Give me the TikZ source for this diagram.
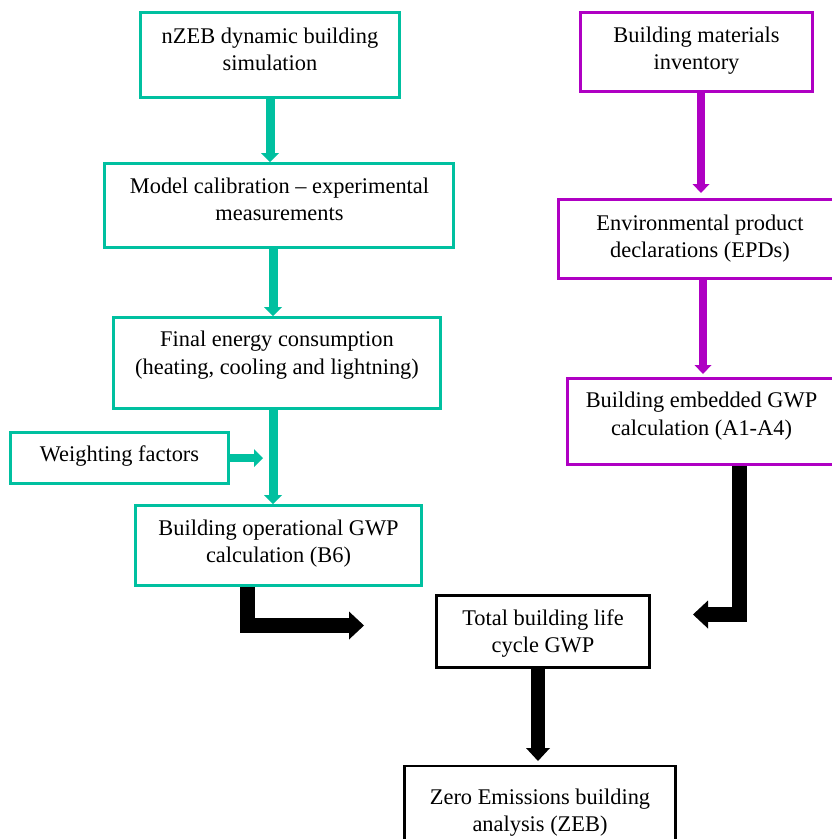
\documentclass[tikz,border=0pt]{standalone}
\usepackage{fontspec}
\setmainfont{Liberation Serif}
\usetikzlibrary{arrows.meta}
\definecolor{myteal}{RGB}{0,192,160}
\definecolor{mymag}{RGB}{175,0,195}
\newcommand{\sst}{\rule[-5.5pt]{0pt}{21.5pt}}
\begin{document}
\begin{tikzpicture}[x=1pt,y=-1pt,
  tbox/.style={draw=myteal, line width=2.8pt, rectangle, inner sep=0pt},
  mbox/.style={draw=mymag, line width=2.8pt, rectangle, inner sep=0pt},
  kbox/.style={draw=black, line width=2.8pt, rectangle, inner sep=0pt},
  txt/.style={anchor=north, inner sep=0pt, align=center, font=\fontsize{22.4}{27.3}\selectfont},
  tealarrow/.style={draw=myteal, line width=9pt, -{Triangle[length=9pt,width=18pt,line width=0pt]}},
  magarrow/.style={draw=mymag, line width=8pt, -{Triangle[length=9pt,width=17pt,line width=0pt]}},
  blackarrow/.style={draw=black, line width=15pt, line join=miter, -{Triangle[length=15pt,width=28pt,line width=0pt]}}
]
\useasboundingbox (0,0) rectangle (831,839);
\fill[white] (0,0) rectangle (831,839);

% boxes
\node[tbox, minimum width=259pt, minimum height=85pt] (b1) at (270,54.8) {};
\node[tbox, minimum width=349pt, minimum height=84pt] (b2) at (279,205.5) {};
\node[tbox, minimum width=327pt, minimum height=91pt] (b3) at (277,363) {};
\node[tbox, minimum width=218pt, minimum height=51pt] (b4) at (119.5,458) {};
\node[tbox, minimum width=286pt, minimum height=80pt] (b5) at (278.5,545.5) {};
\node[mbox, minimum width=232pt, minimum height=79pt] (b6) at (696.5,52) {};
\node[mbox, minimum width=283pt, minimum height=79pt] (b7) at (700,239) {};
\node[mbox, minimum width=268pt, minimum height=86pt] (b8) at (701.5,421.5) {};
\node[kbox, minimum width=213pt, minimum height=72pt] (b9) at (543,631.5) {};
\node[kbox, minimum width=271pt, minimum height=88pt] (b10) at (540,810) {};

% texts
\node[txt] (t1) at (270,27) {\sst nZEB dynamic building\\\sst simulation};
\node[txt] (t2) at (279.5,177.3) {\sst Model calibration – experimental\\\sst measurements};
\node[txt] (t3) at (277,330.7) {\sst Final energy consumption\\\sst (heating, cooling and lightning)};
\node[txt] (t4) at (119.5,445.7) {\sst Weighting factors};
\node[txt] (t5) at (278.5,519) {\sst Building operational GWP\\\sst calculation (B6)};
\node[txt] (t6) at (696.5,26) {\sst Building materials\\\sst inventory};
\node[txt] (t7) at (700,214) {\sst Environmental product\\\sst declarations (EPDs)};
\node[txt] (t8) at (701.5,391.7) {\sst Building embedded GWP\\\sst calculation (A1-A4)};
\node[txt] (t9) at (543,609) {\sst Total building life\\\sst cycle GWP};
\node[txt] (t10) at (540,788) {\sst Zero Emissions building\\\sst analysis (ZEB)};

% coordinates
\coordinate (xa) at (273,0);
\coordinate (wf) at (263,457);
\coordinate (m1) at (701,193);
\coordinate (m2) at (703,374);
\coordinate (k1) at (364,625.5);
\coordinate (k1x) at (247,0);
\coordinate (k2) at (693,614.5);
\coordinate (k2x) at (739.5,0);
\coordinate (k3) at (538,761);

% teal arrows
\draw[tealarrow] (b1.south) -- (b1.south |- b2.north);
\draw[tealarrow] (b2.south -| xa) -- (b3.north -| xa);
\draw[tealarrow] (b3.south -| xa) -- (b5.north -| xa);
\draw[tealarrow, line width=8pt] (b4.east) -- (b4.east -| wf);

% magenta arrows
\draw[magarrow] (b6.south -| m1) -- (m1);
\draw[magarrow] (b7.south -| m2) -- (m2);

% black arrows
\draw[blackarrow] (b5.south -| k1x) |- (k1);
\draw[blackarrow] (b8.south -| k2x) |- (k2);
\draw[blackarrow, line width=14pt, -{Triangle[length=13pt,width=24pt,line width=0pt]}] (b9.south -| k3) -- (k3);
\end{tikzpicture}
\end{document}
